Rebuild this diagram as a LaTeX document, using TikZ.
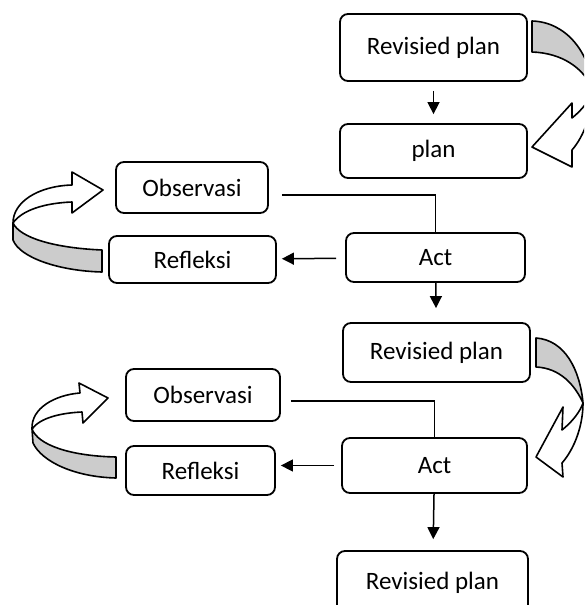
\documentclass[tikz,border=0pt]{standalone}
\usepackage{fontspec}
\setmainfont{Carlito}
\usepackage{tikz}
\usetikzlibrary{arrows, arrows.meta, positioning}
\tikzstyle{box} = [rectangle, rounded corners=4pt, draw=black, line width=0.9pt,
fill=white, inner sep=0pt, text centered, font=\fontsize{12.5}{15}\selectfont]
\tikzstyle{back} = [fill=gray!40, draw=black, line width=0.8pt, line join=round]
\tikzstyle{front} = [fill=white, draw=black, line width=0.8pt, line join=round]

\begin{document}
\begin{tikzpicture}[x=0.5pt,y=-0.5pt,>={Triangle[length=6pt,width=6pt]}, line width=0.75pt]

% The frame
\clip (0,0) rectangle (584,605);

% First cycle
\node (rpA) at (433.5,47.5) [box, minimum width=93.5pt, minimum height=33.5pt] {Revisied plan};
\node (planA) at (433.5,151) [box, minimum width=93.5pt, minimum height=27pt] {plan};
\node (obsA) at (192,187.5) [box, minimum width=76pt, minimum height=25.5pt] {Observasi};
\node (refA) at (192.5,259.5) [box, minimum width=83.5pt, minimum height=23.5pt] {Refleksi};
\node (actA) at (435.5,257.5) [box, minimum width=89.5pt, minimum height=24.5pt] {Act};

% Second cycle
\node (rpB) at (436.5,352.5) [box, minimum width=93.5pt, minimum height=29.5pt] {Revisied plan};
\node (obsB) at (203,395) [box, minimum width=77pt, minimum height=26pt] {Observasi};
\node (refB) at (200.5,470.5) [box, minimum width=74.5pt, minimum height=24.5pt] {Refleksi};
\node (actB) at (434.5,465.5) [box, minimum width=92.5pt, minimum height=27.5pt] {Act};
\node (rpC) at (432.5,583) [box, minimum width=95.5pt, minimum height=32pt] {Revisied plan};

% Connectors
\draw[->, shorten <=4.5pt, shorten >=4.5pt] (rpA) -- (planA);
\draw ([xshift=6.5pt,yshift=-3.75pt]obsA.east) -| (actA.north);
\draw[->, shorten <=4.5pt, shorten >=2.5pt] (actA) -- (refA);
\draw[->, shorten >=7pt] (actA) -- (rpB);
\draw ([xshift=5pt,yshift=-3pt]obsB.east) -| (actB.north);
\draw[->, shorten <=3.5pt, shorten >=2.5pt] (actB.west) -- (refB.east |- actB.west);
\draw[->, shorten >=5.5pt] (actB) -- (rpC);

% Curved arrows on the right
\filldraw[back] (532,21) .. controls (566,22) and (590,52) .. (593,90)
  .. controls (584,68) and (562,53) .. (532,52) -- cycle;
\filldraw[front] (593,90) .. controls (592,112) and (585,135) .. (572,150) -- (572,167)
  -- (532,147) -- (572,103) -- (572,118) .. controls (582,110) and (590,100) .. (593,90) -- cycle;

\filldraw[back] (536,338) .. controls (565,340) and (580,370) .. (583,403)
  .. controls (575,385) and (560,368) .. (536,367) -- cycle;
\filldraw[front] (583,403) .. controls (583,425) and (575,448) .. (562,463) -- (563,477)
  -- (536,457) -- (563,407) -- (562,430) .. controls (572,422) and (580,412) .. (583,403) -- cycle;

% Curved arrows on the left
\filldraw[back] (102,250) .. controls (55,248) and (20,238) .. (13,223) -- (13,240)
  .. controls (20,258) and (60,271) .. (102,272) -- cycle;
\filldraw[front] (13,223) .. controls (13,202) and (38,186) .. (72,185) -- (72,172)
  -- (103,190) -- (72,213) -- (72,202) .. controls (45,203) and (22,210) .. (13,223) -- cycle;

\filldraw[back] (116,457) .. controls (70,456) and (38,445) .. (32,429) -- (33,443)
  .. controls (42,462) and (75,477) .. (116,478) -- cycle;
\filldraw[front] (32,429) .. controls (31,408) and (55,395) .. (80,393) -- (79,383)
  -- (108,398) -- (83,423) -- (82,412) .. controls (60,413) and (40,418) .. (32,429) -- cycle;

\end{tikzpicture}
\end{document}
